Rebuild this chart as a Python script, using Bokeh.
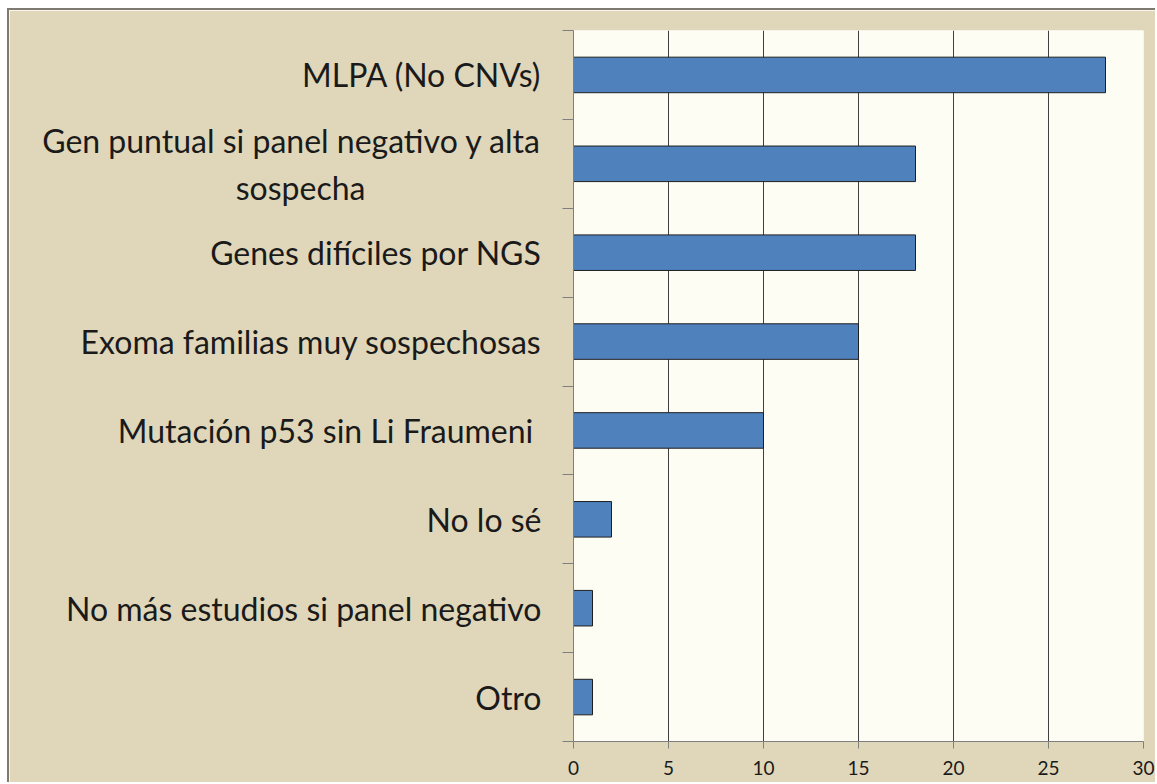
from bokeh.plotting import figure
from bokeh.models import FixedTicker, CustomJSTickFormatter, Range1d, ColumnDataSource
from bokeh.embed import file_html
from bokeh.resources import INLINE

# Data (top to bottom as in the reference)
categories = [
    "MLPA (No CNVs)",
    "Gen puntual si panel negativo y alta\nsospecha",
    "Genes difíciles por NGS",
    "Exoma familias muy sospechosas",
    "Mutación p53 sin Li Fraumeni ",
    "No lo sé",
    "No más estudios si panel negativo",
    "Otro",
]
values = [28, 18, 18, 15, 10, 2, 1, 1]
x_ticks = [0, 5, 10, 15, 20, 25, 30]

n = len(categories)
labels_bottom_up = list(reversed(categories))
vals_bottom_up = list(reversed(values))
ypos = [i + 0.5 for i in range(n)]

# centre the second line of wrapped labels under the first (axis text is right-aligned)
PAD = "\u2003" * 7 + "\u2009" * 2
axis_labels = [s + PAD if "\n" in s else s for s in labels_bottom_up]

src = ColumnDataSource(dict(y=ypos, v=vals_bottom_up, name=labels_bottom_up))

BEIGE = "#E0D7BA"
PLOTBG = "#FEFDF4"
FONT = "Lato"

p = figure(width=1148, height=774, output_backend="svg", toolbar_location=None,
           x_range=Range1d(0, 30), y_range=Range1d(0, n),
           min_border_left=564, min_border_right=14, min_border_top=20, min_border_bottom=43)
p.styles = {"margin-left": "7px", "margin-top": "8px",
            "border-left": "2px solid #7F7A70", "border-top": "2px solid #7F7A70"}
p.background_fill_color = PLOTBG
p.border_fill_color = BEIGE
p.outline_line_color = None

p.hbar(y="y", right="v", left=0, height=0.4, source=src,
       fill_color="#4F81BD", line_color="#1F1F1F", line_width=1)

# x axis
p.xaxis.ticker = FixedTicker(ticks=x_ticks)
p.xaxis.axis_line_color = "#7F7F7F"
p.xaxis.major_tick_line_color = "#7F7F7F"
p.xaxis.major_tick_out = 7
p.xaxis.major_tick_in = 0
p.xaxis.minor_tick_line_color = None
p.xaxis.major_label_text_font = FONT
p.xaxis.major_label_text_font_size = "19px"
p.xaxis.major_label_text_color = "#1A1A1A"
p.xaxis.major_label_standoff = 12

# y axis
p.yaxis.ticker = FixedTicker(ticks=ypos, minor_ticks=list(range(n + 1)))
p.yaxis.formatter = CustomJSTickFormatter(args=dict(labels=axis_labels),
                                          code="return labels[Math.round(tick - 0.5)];")
p.yaxis.axis_line_color = "#7F7F7F"
p.yaxis.major_tick_line_color = None
p.yaxis.major_tick_out = 0
p.yaxis.major_tick_in = 0
p.yaxis.minor_tick_line_color = "#7F7F7F"
p.yaxis.minor_tick_out = 11
p.yaxis.minor_tick_in = 0
p.yaxis.major_label_text_font = FONT
p.yaxis.major_label_text_font_size = "32px"
p.yaxis.major_label_text_color = "#1A1A1A"
p.yaxis.major_label_standoff = 21

p.xgrid.ticker = FixedTicker(ticks=x_ticks)
p.xgrid.grid_line_color = "#404040"
p.xgrid.grid_line_width = 1
p.ygrid.grid_line_color = None

open("out.html", "w").write(file_html(p, INLINE))
